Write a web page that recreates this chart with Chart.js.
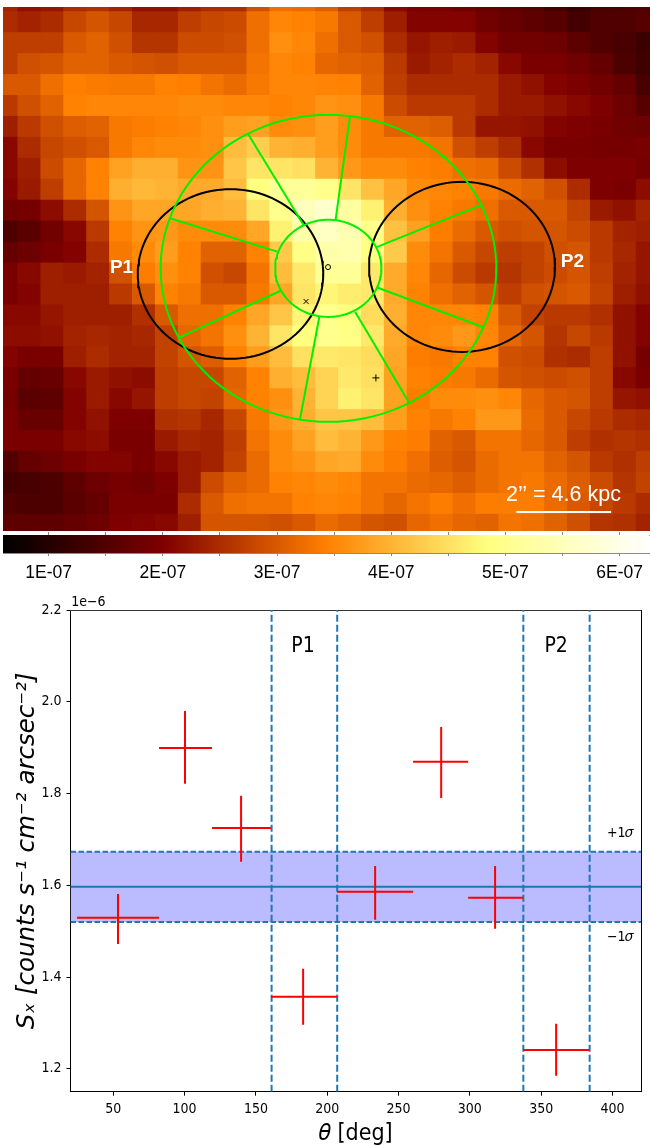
<!DOCTYPE html>
<html><head><meta charset="utf-8">
<script src="https://cdn.jsdelivr.net/npm/chart.js@4"></script>
<style>
html,body{margin:0;padding:0;background:#fff;width:650px;height:1146px;overflow:hidden}
canvas{position:absolute;display:block}
</style></head><body>
<canvas id="heat" width="647" height="524" style="left:3px;top:7px;width:647px;height:524px"></canvas>
<canvas id="cbar" width="650" height="60" style="left:0;top:530px;width:650px;height:60px"></canvas>
<canvas id="prof" width="650" height="551" style="left:0;top:595px;width:650px;height:551px"></canvas>
<script>
// Image brightness, in units of 1E-07, read row by row
const row00=[2.4,2.2,2.25,2.5,2.55,2.4,2.2,2.2,2.35,2.5,2.5,2.9,3.25,3.2,3.05,2.7,2.5,2.1,1.95,1.95,1.85,1.75,1.65,1.55,1.35,1.2,1.4,1.45,1.5];
const row01=[2.5,2.4,2.5,2.8,2.95,2.8,2.45,2.45,2.7,2.8,2.85,3.25,3.5,3.45,3.35,3.0,2.7,2.35,2.05,2.05,2.05,1.85,1.75,1.65,1.55,1.35,1.5,1.5,1.55];
const row02=[2.7,2.7,2.7,3.0,3.1,2.9,2.6,2.6,2.85,2.85,2.9,3.25,3.6,3.5,3.25,3.0,2.9,2.5,2.25,2.35,2.3,2.05,1.85,1.85,1.8,1.65,1.5,1.4,1.25];
const row03=[2.7,2.9,2.95,3.1,3.1,3.0,2.95,2.9,3.0,3.0,3.0,3.3,3.5,3.45,3.15,3.1,3.05,2.65,2.3,2.4,2.5,2.4,2.1,1.95,1.95,1.85,1.7,1.45,1.3];
const row04=[3.0,3.0,3.25,3.43,3.38,3.35,3.35,3.45,3.43,3.3,3.2,3.35,3.5,3.5,3.48,3.45,3.1,2.7,2.5,2.5,2.5,2.5,2.3,2.2,2.05,1.98,1.85,1.7,1.4];
const row05=[2.65,2.9,3.1,3.45,3.5,3.5,3.5,3.5,3.55,3.55,3.5,3.5,3.45,3.5,3.65,3.6,3.35,2.85,2.65,2.65,2.65,2.5,2.3,2.3,2.2,2.1,2.0,1.8,1.55];
const row06=[2.35,2.65,2.9,3.05,3.1,3.35,3.4,3.45,3.5,3.6,3.75,3.8,3.55,3.6,3.75,3.55,3.35,3.1,3.1,3.05,2.65,2.25,2.25,2.2,2.05,2.0,1.95,1.85,1.8];
const row07=[2.1,2.5,2.8,2.9,3.0,3.35,3.5,3.55,3.55,3.6,4.1,4.3,4.0,3.95,3.75,3.55,3.35,3.35,3.35,3.3,2.9,2.7,2.5,2.1,1.95,1.95,1.9,1.9,1.95];
const row08=[2.1,2.35,2.85,3.15,3.45,3.8,3.95,3.95,3.65,3.65,4.2,4.55,4.55,4.5,4.0,3.7,3.55,3.55,3.45,3.4,3.25,3.2,2.85,2.55,2.15,2.0,2.0,2.0,1.9];
const row09=[2.05,2.3,2.7,3.15,3.45,3.95,4.05,4.0,3.9,3.9,4.1,4.85,5.1,5.1,4.95,4.55,4.15,3.85,3.55,3.5,3.45,3.35,3.2,3.1,2.9,2.5,2.0,1.95,2.15];
const row10=[1.85,1.9,2.15,2.5,2.95,3.65,3.85,3.85,3.85,3.95,4.0,4.55,5.0,5.5,5.7,5.2,4.7,3.95,3.6,3.45,3.35,3.25,3.0,3.0,3.0,2.75,2.3,2.2,2.4];
const row11=[1.45,1.6,1.85,2.1,2.65,3.45,3.65,3.7,3.55,3.55,3.55,3.85,4.7,5.3,5.6,5.4,4.95,4.15,3.8,3.4,3.2,3.0,2.9,2.95,2.95,2.85,2.65,2.4,2.35];
const row12=[1.7,1.8,1.95,2.05,2.5,3.35,3.55,3.75,3.45,3.1,3.1,3.45,4.25,4.9,5.3,5.35,4.9,4.25,3.55,3.3,3.0,2.8,2.7,2.75,2.9,2.95,2.65,2.45,2.25];
const row13=[1.95,2.1,2.35,2.3,2.4,2.9,3.4,3.6,3.45,2.9,2.8,3.3,4.1,4.6,5.1,5.1,4.6,3.9,3.5,3.15,2.85,2.65,2.6,2.75,2.85,2.95,2.7,2.4,2.25];
const row14=[1.95,2.05,2.35,2.35,2.35,2.65,3.0,3.45,3.35,3.0,3.0,3.35,3.85,4.55,4.75,4.65,4.6,3.9,3.45,3.25,3.1,2.95,2.7,2.9,2.95,3.0,2.75,2.35,2.2];
const row15=[2.1,2.1,2.25,2.35,2.35,2.35,2.55,3.0,3.25,3.25,3.45,3.85,4.2,4.75,5.0,4.85,4.45,3.95,3.5,3.5,3.5,3.45,3.0,2.75,2.65,2.65,2.55,2.2,2.05];
const row16=[2.15,2.15,2.2,2.4,2.45,2.4,2.45,2.75,3.15,3.3,3.6,4.0,4.55,4.85,5.0,4.9,4.6,3.9,3.5,3.55,3.7,3.5,3.15,2.95,2.6,2.8,2.65,2.2,2.05];
const row17=[2.05,1.95,1.95,2.35,2.5,2.4,2.4,2.75,2.95,3.05,3.45,3.75,4.1,4.5,4.6,4.55,4.45,3.85,3.4,3.35,3.45,3.45,2.9,2.85,2.55,2.5,2.7,2.2,1.9];
const row18=[1.95,1.7,1.75,2.1,2.3,2.2,2.15,2.7,2.8,2.8,3.1,3.45,3.95,4.1,4.35,4.6,4.5,3.8,3.45,3.4,3.35,3.2,2.95,2.9,2.85,2.9,2.7,2.1,1.95];
const row19=[1.9,1.6,1.65,2.05,2.3,2.1,2.25,2.7,2.8,2.75,3.15,3.45,3.6,4.0,4.35,4.7,4.55,3.8,3.4,3.55,3.55,3.6,3.5,3.15,3.0,2.95,2.7,2.25,2.2];
const row20=[1.95,1.75,1.75,2.05,2.2,2.0,2.0,2.55,2.6,2.45,2.8,3.35,3.7,3.95,4.2,4.2,4.1,3.75,3.45,3.35,3.45,3.7,3.7,3.2,3.0,2.8,2.65,2.5,2.45];
const row21=[1.95,1.95,1.95,2.1,2.15,1.95,1.95,2.3,2.45,2.4,2.7,3.3,3.55,3.8,4.1,4.0,3.7,3.45,3.4,3.1,3.0,3.3,3.3,3.15,3.0,2.7,2.55,2.6,2.55];
const row22=[1.5,1.7,1.8,1.95,2.05,2.05,1.95,2.1,2.3,2.4,2.75,3.2,3.55,3.65,3.85,3.9,3.55,3.4,3.25,3.05,2.95,3.2,3.3,3.3,3.1,2.95,2.65,2.55,2.7];
const row23=[1.35,1.4,1.45,1.65,1.8,1.9,1.85,2.0,2.3,2.85,3.1,3.2,3.45,3.5,3.55,3.5,3.3,3.3,3.2,3.15,3.05,3.2,3.3,3.35,3.2,3.05,2.85,2.6,2.75];
const row24=[1.5,1.45,1.45,1.6,1.7,1.95,1.95,1.95,2.5,3.0,3.25,3.3,3.3,3.45,3.5,3.45,3.3,3.15,3.3,3.4,3.25,3.4,3.4,3.4,3.2,3.0,2.8,2.65,2.5];
const row25=[1.65,1.65,1.65,1.7,1.8,2.0,2.05,2.1,2.35,2.95,2.95,2.95,2.9,3.0,3.2,3.1,2.95,2.9,3.15,3.25,3.15,3.1,3.3,3.25,3.1,2.9,2.6,2.55,2.4];
const imageRows=[row00,row01,row02,row03,row04,row05,row06,row07,row08,row09,row10,row11,row12,row13,row14,row15,row16,row17,row18,row19,row20,row21,row22,row23,row24,row25];

// Colour scale
const colorbarMin=0.6, colorbarMax=6.26;
const colorbarTicks=[1,1.5,2,2.5,3,3.5,4,4.5,5,5.5,6];
const mapStops=[0,0.25,0.5,0.75,1];
const mapColors=['#000000','#800000','#ff8000','#ffff80','#ffffff'];

// Regions drawn on the image, in pixel-cell coordinates [column,row,radius]
const outerRing=[14.06,12.80,7.33];
const innerRing=[14.05,12.80,2.32];
const circleP1=[9.78,13.07,4.05];
const circleP2=[19.89,12.73,4.06];
const spokes=[
 [10.53,6.35,12.99,10.77],[15.0,5.53,14.37,10.49],[20.75,9.77,16.16,11.79],[20.82,15.61,16.16,13.70],
 [17.57,19.19,15.22,14.87],[12.81,20.04,13.66,15.11],[7.53,16.11,11.97,13.87],[7.14,10.41,11.82,12.0]];
const markO=[14.04,12.74], markX=[13.08,14.38], markPlus=[16.13,18.03];
const scaleBar=[22.26,26.4,24.43];

// Surface-brightness profile (units of 1e-6)
const theta=[53.3,100.3,139.6,183.1,233.6,279.9,317.7,360.5];
const thetaLow=[24.6,82.1,119.2,160.6,206.9,260.2,298.8,337.4];
const thetaHigh=[82.1,119.2,160.6,206.9,260.2,298.8,337.4,383.7];
const sx=[1.529,1.899,1.725,1.357,1.586,1.869,1.573,1.241];
const sxLow=[1.472,1.821,1.651,1.296,1.525,1.79,1.505,1.185];
const sxHigh=[1.581,1.98,1.795,1.418,1.642,1.945,1.642,1.298];
const sxMean=1.597, sxPlus=1.673, sxMinus=1.52;
const regionEdges=[161,207,337.5,384];
const profXTicks=[50,100,150,200,250,300,350,400];
const profYTicks=[1.2,1.4,1.6,1.8,2.0,2.2];

function hex(c){return [1,3,5].map(i=>parseInt(c.substr(i,2),16));}
function mapColor(v){
  const t=Math.min(1,Math.max(0,(v-colorbarMin)/(colorbarMax-colorbarMin)));
  let i=0; while(i<mapStops.length-2&&t>mapStops[i+1])i++;
  const f=(t-mapStops[i])/(mapStops[i+1]-mapStops[i]);
  const a=hex(mapColors[i]),b=hex(mapColors[i+1]);
  return `rgb(${a.map((p,k)=>Math.round(p+(b[k]-p)*f)).join(',')})`;
}
// draws text anchored in data coordinates of a chart's scales
const dataText={id:'dataText',afterDatasetsDraw(chart,args,opts){
  const {ctx,scales}=chart;
  for(const it of opts.items||[]){
    ctx.save();ctx.font=it.font;ctx.fillStyle=it.color||'#000';
    ctx.textAlign=it.align||'center';ctx.textBaseline='middle';
    ctx.fillText(it.text,scales.x.getPixelForValue(it.x),scales.y.getPixelForValue(it.y));
    ctx.restore();
  }
}};
function ringPoints(r){
  const pts=[];
  for(let a=0;a<=360;a+=3){pts.push({x:r[0]+r[2]*Math.cos(a*Math.PI/180),y:r[1]+r[2]*Math.sin(a*Math.PI/180)});}
  return pts;
}
const overlay=(data,color,w)=>({type:'line',data,borderColor:color,borderWidth:w,pointRadius:0,fill:false,tension:0,order:0,spanGaps:false});
const markDs=(p,style,r)=>({type:'line',data:[{x:p[0],y:p[1]}],showLine:false,pointStyle:style,pointRadius:r,pointBorderColor:'#000',pointBackgroundColor:'rgba(0,0,0,0)',pointBorderWidth:1,order:0});

const heatDatasets=[
  overlay(ringPoints(outerRing),'#00f000',2),
  overlay(ringPoints(innerRing),'#00f000',2),
  ...spokes.map(s=>overlay([{x:s[0],y:s[1]},{x:s[2],y:s[3]}],'#00f000',2)),
  overlay(ringPoints(circleP1),'#000',2),
  overlay(ringPoints(circleP2),'#000',2),
  overlay([{x:scaleBar[0],y:scaleBar[2]},{x:scaleBar[1],y:scaleBar[2]}],'#fff',2),
  markDs(markO,'circle',2.5),markDs(markX,'crossRot',3.5),markDs(markPlus,'cross',3.5),
  ...imageRows.map((vals,r)=>({
    type:'bar',order:1,
    data:vals.map((v,c)=>({x:c,y:[r-0.5,r+0.5]})),
    backgroundColor:vals.map(mapColor),
    barPercentage:1,categoryPercentage:1,grouped:false,borderWidth:0,inflateAmount:0.5
  }))
];
new Chart(document.getElementById('heat'),{
  type:'bar',
  data:{datasets:heatDatasets},
  plugins:[dataText],
  options:{responsive:false,animation:false,devicePixelRatio:1,
    layout:{padding:0,autoPadding:false},
    plugins:{legend:{display:false},tooltip:{enabled:false},
      dataText:{items:[
        {text:'P1',x:5.02,y:12.78,font:'bold 19px "Liberation Sans"',color:'#fff'},
        {text:'P2',x:24.71,y:12.5,font:'bold 19px "Liberation Sans"',color:'#fff'},
        {text:'2’’ = 4.6 kpc',x:24.32,y:23.62,font:'21.5px "Liberation Sans"',color:'#fff'}
      ]}},
    scales:{
      x:{type:'linear',display:false,min:-0.155,max:28.1,offset:false},
      y:{type:'linear',display:false,min:0.323,max:25.34,reverse:true}
    }}
});

const fitH=h=>s=>{s.height=h;};
const fitW=w=>s=>{s.width=w;};
new Chart(document.getElementById('cbar'),{
  type:'bar',
  data:{labels:[''],datasets:[{
    data:[[colorbarMin,colorbarMax]],
    barPercentage:1,categoryPercentage:1,borderWidth:0,
    backgroundColor(ctx){
      const s=ctx.chart.scales.x;
      const a=s.getPixelForValue(colorbarMin),b=s.getPixelForValue(colorbarMax);
      if(!isFinite(a)||!isFinite(b))return '#000';
      const g=ctx.chart.ctx.createLinearGradient(a,0,b,0);
      mapStops.forEach((p,i)=>g.addColorStop(p,mapColors[i]));
      return g;
    }}]},
  options:{indexAxis:'y',responsive:false,animation:false,devicePixelRatio:1,
    layout:{padding:{left:3,right:0,top:0,bottom:0},autoPadding:false},
    plugins:{legend:{display:false},tooltip:{enabled:false}},
    scales:{
      y:{type:'category',display:false},
      x:{type:'linear',position:'bottom',min:colorbarMin,max:colorbarMax,
        afterBuildTicks:s=>{s.ticks=colorbarTicks.map(v=>({value:v}));},
        afterFit:fitH(37),
        border:{color:'#8a8a8a',width:1},
        grid:{drawOnChartArea:false,tickLength:3,color:'#8a8a8a',tickColor:'#8a8a8a'},
        ticks:{autoSkip:false,maxRotation:0,padding:7,color:'#000',
          font:{family:'"Liberation Sans"',size:17.5},
          callback:v=>Number.isInteger(v)?`${v}E-07`:''}},
      xTop:{type:'linear',position:'top',min:colorbarMin,max:colorbarMax,
        afterBuildTicks:s=>{s.ticks=colorbarTicks.map(v=>({value:v}));},
        afterFit:fitH(5),
        border:{color:'#8a8a8a',width:1},
        grid:{drawOnChartArea:false,tickLength:3,color:'#8a8a8a',tickColor:'#8a8a8a'},
        ticks:{display:false,autoSkip:false}}
    }}
});

const blue='#1f77b4';
const xFrom=20,xTo=420,yFrom=1.15,yTo=2.2;
const thetaBars=theta.flatMap((t,i)=>[{x:thetaLow[i],y:sx[i]},{x:thetaHigh[i],y:sx[i]},{x:t,y:null}]);
const sxBars=theta.flatMap((t,i)=>[{x:t,y:sxLow[i]},{x:t,y:sxHigh[i]},{x:t,y:null}]);
const condensed='"DejaVu Sans Condensed","DejaVu Sans"';
new Chart(document.getElementById('prof'),{
  type:'line',
  data:{datasets:[
    {data:thetaBars,borderColor:'#ff0000',borderWidth:2,pointRadius:0,spanGaps:false,order:0,tension:0},
    {data:sxBars,borderColor:'#ff0000',borderWidth:2,pointRadius:0,spanGaps:false,order:0,tension:0},
    ...regionEdges.map(e=>({data:[{x:e,y:yFrom},{x:e,y:yTo}],borderColor:blue,borderWidth:2,borderDash:[7,3],pointRadius:0,order:1})),
    {data:[{x:xFrom,y:sxMean},{x:xTo,y:sxMean}],borderColor:blue,borderWidth:2,pointRadius:0,order:2},
    {data:[{x:xFrom,y:sxPlus},{x:xTo,y:sxPlus}],borderColor:blue,borderWidth:2,borderDash:[5.5,2.5],pointRadius:0,order:3},
    {data:[{x:xFrom,y:sxMinus},{x:xTo,y:sxMinus}],borderColor:blue,borderWidth:2,borderDash:[5.5,2.5],pointRadius:0,order:3},
    {data:[{x:xFrom,y:sxPlus},{x:xTo,y:sxPlus}],borderWidth:0,pointRadius:0,order:4,fill:{target:'+1'},backgroundColor:'#bbbbff'},
    {data:[{x:xFrom,y:sxMinus},{x:xTo,y:sxMinus}],borderWidth:0,pointRadius:0,order:4}
  ]},
  plugins:[dataText],
  options:{responsive:false,animation:false,devicePixelRatio:1,
    layout:{padding:{left:13,right:9,top:15,bottom:0},autoPadding:false},
    plugins:{legend:{display:false},tooltip:{enabled:false},
      dataText:{items:[
        {text:'P1',x:183,y:2.12,font:`21px ${condensed}`},
        {text:'P2',x:360.5,y:2.12,font:`21px ${condensed}`},
        {text:'+1𝜎',x:405.4,y:1.714,font:`14px ${condensed}`},
        {text:'−1𝜎',x:405.4,y:1.486,font:`14px ${condensed}`},
        {text:'1e−6',x:20.5,y:2.216,align:'left',font:`14px ${condensed}`}
      ]}},
    scales:{
      x:{type:'linear',min:xFrom,max:xTo,
        afterBuildTicks:s=>{s.ticks=profXTicks.map(v=>({value:v}));},
        afterFit:fitH(54.3),
        border:{color:'#000',width:1},
        grid:{drawOnChartArea:false,tickLength:4,tickColor:'#000'},
        ticks:{autoSkip:false,maxRotation:0,padding:5,color:'#000',font:{family:condensed,size:14}},
        title:{display:true,text:'𝜃 [deg]',color:'#000',padding:{top:0,bottom:-2},font:{family:condensed,size:23}}},
      y:{type:'linear',min:yFrom,max:yTo,
        afterBuildTicks:s=>{s.ticks=profYTicks.map(v=>({value:v}));},
        afterFit:fitW(57.5),
        border:{color:'#000',width:1},
        grid:{drawOnChartArea:false,tickLength:4,tickColor:'#000'},
        ticks:{autoSkip:false,padding:5,color:'#000',font:{family:condensed,size:14},callback:v=>v.toFixed(1)},
        title:{display:true,text:'Sₓ [counts s⁻¹ cm⁻² arcsec⁻²]',color:'#000',padding:0,font:{family:'"DejaVu Sans"',style:'italic',size:24.5}}},
      xEdge:{type:'linear',position:'top',min:xFrom,max:xTo,afterFit:fitH(0),
        border:{color:'#333',width:1},grid:{drawOnChartArea:false,drawTicks:false},ticks:{display:false}},
      yEdge:{type:'linear',position:'right',min:yFrom,max:yTo,afterFit:fitW(0),
        border:{color:'#000',width:1},grid:{drawOnChartArea:false,drawTicks:false},ticks:{display:false}}
    }}
});
</script>
</body></html>
